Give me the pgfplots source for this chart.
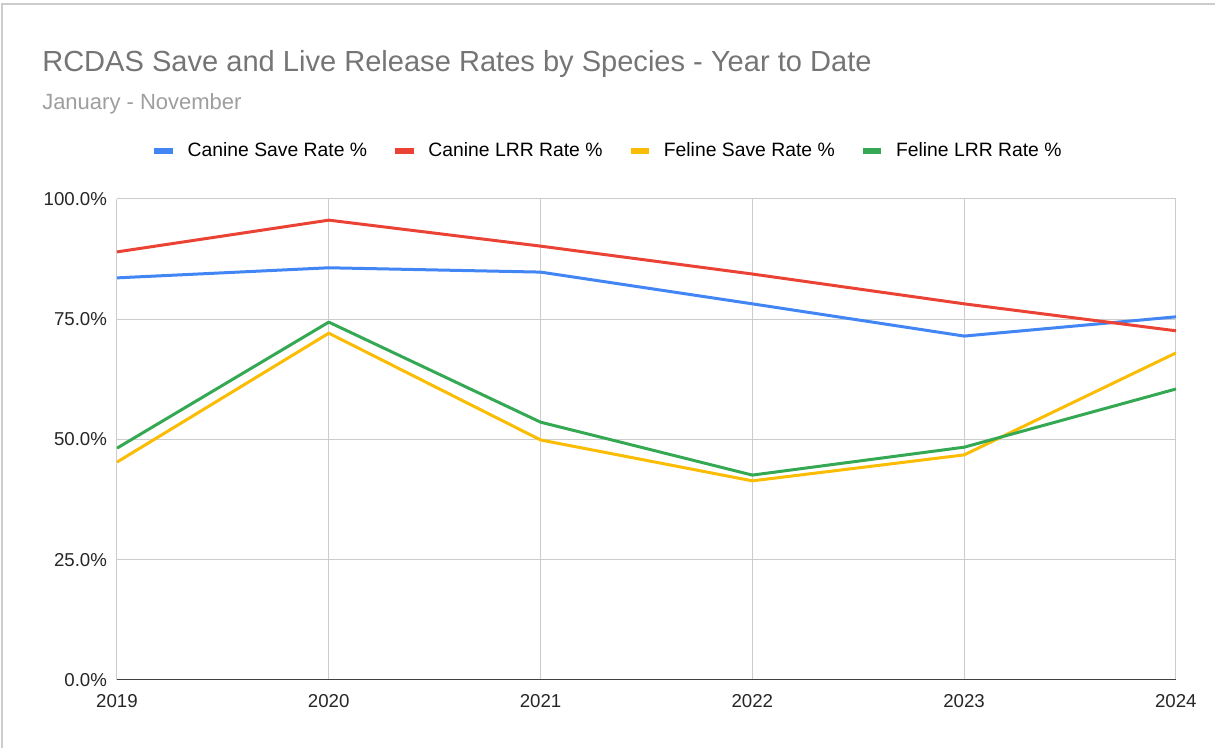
\documentclass[border=0pt]{standalone}
\usepackage{pgfplots}
\pgfplotsset{compat=1.18}
\usepackage{fontspec}
\setmainfont{Liberation Sans}

\definecolor{cblue}{HTML}{4285F4}
\definecolor{cred}{HTML}{EA4335}
\definecolor{cyellow}{HTML}{FBBC04}
\definecolor{cgreen}{HTML}{34A853}
\definecolor{gridgray}{HTML}{CCCCCC}
\definecolor{titlegray}{HTML}{757575}
\definecolor{subgray}{HTML}{9E9E9E}

\begin{document}
\begin{tikzpicture}
\useasboundingbox (0,0) rectangle (911.25pt,561pt);
\draw[gridgray, line width=1.5pt] (1.5pt,-2pt) -- (1.5pt,558pt) -- (913pt,558pt);

\node[anchor=base west, inner sep=0pt, text=titlegray, font=\fontsize{21.8}{24}\selectfont] at (31.5pt,507pt)
    {RCDAS Save and Live Release Rates by Species - Year to Date};
\node[anchor=base west, inner sep=0pt, text=subgray, font=\fontsize{16.5}{18}\selectfont] at (31.5pt,478.5pt)
    {January - November};

\begin{axis}[
    at={(87.75pt,51pt)}, anchor=south west,
    scale only axis,
    width=794.25pt, height=360.75pt,
    xmin=2019, xmax=2024,
    ymin=0, ymax=100,
    xtick={2019,...,2024},
    ytick={0,25,50,75,100},
    grid=major,
    major grid style={gridgray, line width=0.75pt},
    major tick length=0pt,
    axis line style={draw=none},
    tick label style={font=\fontsize{14}{16}\selectfont, text=black!85,
        /pgf/number format/assume math mode=true},
    xticklabel style={/pgf/number format/1000 sep={}, yshift=-7pt},
    yticklabel={\pgfmathprintnumber[fixed,fixed zerofill,precision=1]{\tick}\%},
    yticklabel style={xshift=-4pt},
    legend columns=4,
    legend style={
        at={(0.4636,1.0998)}, anchor=center,
        draw=none, fill=none,
        font=\fontsize{14.5}{17}\selectfont,
        /tikz/every odd column/.append style={column sep=7pt},
        /tikz/every even column/.append style={column sep=17pt},
    },
    legend image code/.code={
        \draw[line width=4pt] (0pt,0pt) -- (14pt,0pt);
    },
    every axis plot/.append style={line width=2.25pt, line join=round},
]
\addplot[cblue] coordinates {
    (2019,83.6) (2020,85.7) (2021,84.8) (2022,78.2) (2023,71.5) (2024,75.5)
};
\addlegendentry{Canine Save Rate \%}
\addplot[cred] coordinates {
    (2019,89.0) (2020,95.6) (2021,90.2) (2022,84.4) (2023,78.2) (2024,72.6)
};
\addlegendentry{Canine LRR Rate \%}
\addplot[cyellow] coordinates {
    (2019,45.3) (2020,72.1) (2021,49.9) (2022,41.4) (2023,46.8) (2024,68.0)
};
\addlegendentry{Feline Save Rate \%}
\addplot[cgreen] coordinates {
    (2019,48.2) (2020,74.4) (2021,53.6) (2022,42.6) (2023,48.4) (2024,60.5)
};
\addlegendentry{Feline LRR Rate \%}
\draw[black!75, line width=1.2pt] (axis cs:2019,0) -- (axis cs:2024,0);
\end{axis}
\end{tikzpicture}
\end{document}
